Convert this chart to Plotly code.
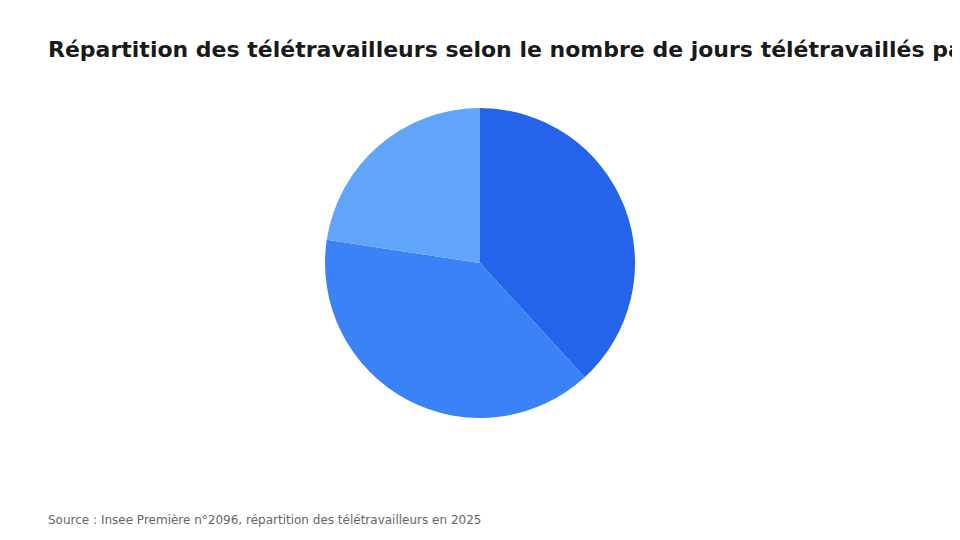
import plotly.graph_objects as go

# Répartition des télétravailleurs (Insee Première n°2096)
labels = ["1 jour", "2 jours", "3 jours ou plus"]
values = [38, 39, 22.5]
colors = ["#2563EB", "#3B82F6", "#60A5FA"]

title_text = "Répartition des télétravailleurs selon le nombre de jours télétravaillés par semaine"
source_text = "Source : Insee Première n°2096, répartition des télétravailleurs en 2025"

fig = go.Figure(go.Pie(
    labels=labels,
    values=values,
    marker=dict(colors=colors, line=dict(width=0)),
    sort=False,
    direction="clockwise",
    rotation=0,
    textinfo="none",
    hovertemplate="<b>%{label}</b><br>%{value} %<extra></extra>",
))

# the page body adds 8px of margin, so everything is pulled back by 8px
fig.update_layout(
    width=960,
    height=540,
    paper_bgcolor="white",
    plot_bgcolor="white",
    showlegend=False,
    margin=dict(t=100, b=130, l=40, r=56),
    title=dict(
        text=title_text,
        x=40 / 960,
        xref="container",
        xanchor="left",
        y=1 - 41 / 540,
        yref="container",
        yanchor="middle",
        font=dict(family="DejaVu Sans", size=22, color="#1a1a1a", weight="bold"),
    ),
    annotations=[dict(
        text=source_text,
        xref="paper", yref="paper",
        x=-2 / 864, y=-102 / 310,
        xanchor="left", yanchor="middle",
        showarrow=False,
        font=dict(family="DejaVu Sans", size=12, color="#666666"),
    )],
)

fig.write_html("out.html")
